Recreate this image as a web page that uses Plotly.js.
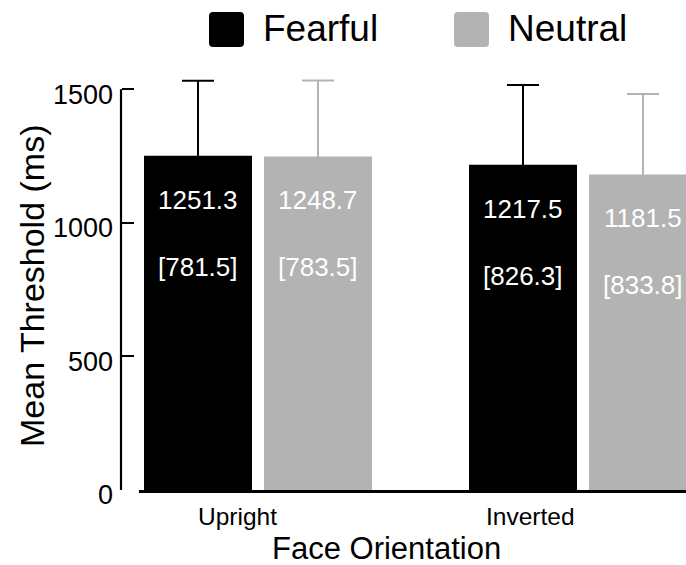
<!DOCTYPE html>
<html>
<head>
<meta charset="utf-8">
<script src="https://cdn.plot.ly/plotly-3.0.1.min.js"></script>
<style>
  html, body { margin: 0; padding: 0; background: #fff; }
  #chart { width: 686px; height: 565px; }
</style>
</head>
<body>
<div id="chart"></div>
<script>
// ---- data ----
const categories = ['Upright', 'Inverted'];
const seriesNames = ['Fearful', 'Neutral'];
const fearfulMeans = [1251.3, 1217.5];
const neutralMeans = [1248.7, 1181.5];
const fearfulSD = [781.5, 826.3];
const neutralSD = [783.5, 833.8];
const fearfulErr = [281, 299];
const neutralErr = [284, 301];
const yTickVals = [0, 500, 1000, 1500];
const yTickText = ['0', '500', '1000', '1500'];
const xTitle = 'Face Orientation';
const yTitle = 'Mean Threshold (ms)';

// ---- styling ----
const FONT = 'Liberation Sans, Arial, Helvetica, sans-serif';
const BLACK = '#000000';
const GRAY = '#b3b3b3';
const W = 686, H = 565;
const M = {l: 121, r: 0, t: 70, b: 75};
const plotW = W - M.l - M.r, plotH = H - M.t - M.b;
const px2x = p => (p - M.l) / plotW;
const px2y = p => (H - M.b - p) / plotH;
const HIDDEN_MINUS = 20; // lower end of error bar tucked inside the bar

function roundSquare(x0, y0, s, r) {
  const X = p => px2x(p).toFixed(5), Y = p => px2y(p).toFixed(5);
  const x1 = x0 + s, y1 = y0 + s;
  return `M${X(x0 + r)},${Y(y0)} L${X(x1 - r)},${Y(y0)} Q${X(x1)},${Y(y0)} ${X(x1)},${Y(y0 + r)} ` +
         `L${X(x1)},${Y(y1 - r)} Q${X(x1)},${Y(y1)} ${X(x1 - r)},${Y(y1)} ` +
         `L${X(x0 + r)},${Y(y1)} Q${X(x0)},${Y(y1)} ${X(x0)},${Y(y1 - r)} ` +
         `L${X(x0)},${Y(y0 + r)} Q${X(x0)},${Y(y0)} ${X(x0 + r)},${Y(y0)} Z`;
}

const traces = [
  {
    type: 'bar', name: seriesNames[0], x: categories, y: fearfulMeans,
    marker: {color: BLACK, line: {width: 0}},
    error_y: {type: 'data', symmetric: false, array: fearfulErr,
              arrayminus: fearfulErr.map(() => HIDDEN_MINUS),
              color: BLACK, thickness: 2, width: 16},
    hoverinfo: 'none', showlegend: false
  },
  {
    type: 'bar', name: seriesNames[1], x: categories, y: neutralMeans,
    marker: {color: GRAY, line: {width: 0}},
    error_y: {type: 'data', symmetric: false, array: neutralErr,
              arrayminus: neutralErr.map(() => HIDDEN_MINUS),
              color: GRAY, thickness: 2, width: 16},
    hoverinfo: 'none', showlegend: false
  }
];

const annotations = [];
const groups = [
  {means: fearfulMeans, sds: fearfulSD, xshift: -60},
  {means: neutralMeans, sds: neutralSD, xshift: 60}
];
groups.forEach(g => {
  categories.forEach((c, i) => {
    annotations.push({
      xref: 'x', yref: 'y', x: c, y: g.means[i], xshift: g.xshift, yshift: -44,
      text: g.means[i].toFixed(1), showarrow: false, xanchor: 'center', yanchor: 'middle',
      font: {family: FONT, size: 26, color: '#ffffff'}
    });
    annotations.push({
      xref: 'x', yref: 'y', x: c, y: g.means[i], xshift: g.xshift, yshift: -111,
      text: '[' + g.sds[i].toFixed(1) + ']', showarrow: false, xanchor: 'center', yanchor: 'middle',
      font: {family: FONT, size: 26, color: '#ffffff'}
    });
  });
});
// category tick labels
const tickShift = [-21, -53];
categories.forEach((c, i) => {
  annotations.push({
    xref: 'x', yref: 'paper', x: c, y: px2y(516), xshift: tickShift[i],
    text: c, showarrow: false, xanchor: 'center', yanchor: 'middle',
    font: {family: FONT, size: 24.5, color: '#000'}
  });
});
// axis titles
annotations.push({
  xref: 'paper', yref: 'paper', x: px2x(386), y: px2y(548),
  text: xTitle, showarrow: false, xanchor: 'center', yanchor: 'middle',
  font: {family: FONT, size: 31, color: '#000'}
});
annotations.push({
  xref: 'paper', yref: 'paper', x: px2x(32), y: px2y(286), textangle: -90,
  text: yTitle, showarrow: false, xanchor: 'center', yanchor: 'middle',
  font: {family: FONT, size: 34, color: '#000'}
});
// legend labels
const legendX = [263, 508];
seriesNames.forEach((n, i) => {
  annotations.push({
    xref: 'paper', yref: 'paper', x: px2x(legendX[i] - 2), y: px2y(29),
    text: n, showarrow: false, xanchor: 'left', yanchor: 'middle',
    font: {family: FONT, size: 37, color: '#000'}
  });
});

const shapes = [
  {type: 'line', xref: 'paper', yref: 'y', x0: 0, x1: 0, y0: 0, y1: 1500,
   line: {color: '#000', width: 2.2}, layer: 'above'},
  {type: 'path', xref: 'paper', yref: 'paper', path: roundSquare(209, 12, 35, 4),
   fillcolor: BLACK, line: {width: 0}},
  {type: 'path', xref: 'paper', yref: 'paper', path: roundSquare(454, 12, 35, 4),
   fillcolor: GRAY, line: {width: 0}}
];

const layout = {
  width: W, height: H,
  margin: M,
  paper_bgcolor: '#fff', plot_bgcolor: '#fff',
  barmode: 'group', bargap: 0.2615, bargroupgap: 0.1,
  showlegend: false,
  font: {family: FONT, color: '#000'},
  xaxis: {
    type: 'category', domain: [px2x(139), 1], range: [-0.3662, 1.3169],
    showline: true, linecolor: '#000', linewidth: 2.5,
    showticklabels: false, ticks: '', showgrid: false, zeroline: false,
    fixedrange: true
  },
  yaxis: {
    anchor: 'free', position: 0, range: [0, 1572.3],
    tickmode: 'array', tickvals: yTickVals, ticktext: yTickText,
    ticks: 'inside', ticklen: 12, tickwidth: 2, tickcolor: '#000',
    ticklabelstandoff: 8, ticklabelshift: 5,
    tickfont: {family: FONT, size: 27, color: '#000'},
    showline: false, showgrid: false, zeroline: false,
    fixedrange: true
  },
  annotations: annotations,
  shapes: shapes
};

Plotly.newPlot('chart', traces, layout, {staticPlot: true, displayModeBar: false});
</script>
</body>
</html>
